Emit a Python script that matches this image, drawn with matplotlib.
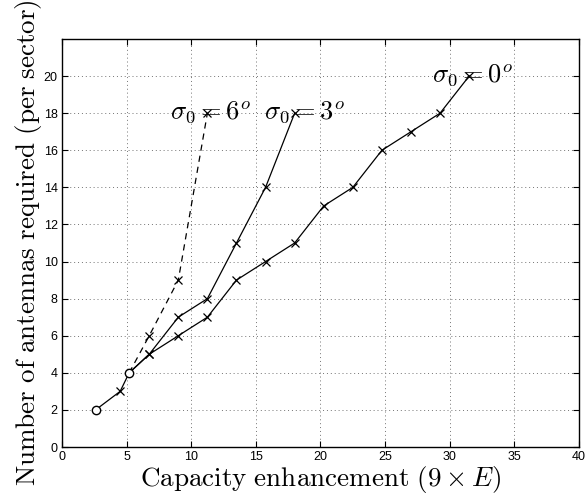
"""Antennas needed per sector against capacity enhancement for three angular spreads."""

import matplotlib
matplotlib.use("Agg")
import matplotlib.pyplot as plt

plt.rcParams["mathtext.fontset"] = "cm"
plt.rcParams["font.family"] = ["Liberation Sans", "DejaVu Sans"]

# sigma_0 = 0 deg
cap_0 = [2.6, 4.5, 5.2, 6.75, 9.0, 11.25, 13.5, 15.75, 18.0, 20.25, 22.5, 24.75, 27.0, 29.25, 31.5]
ant_0 = [2, 3, 4, 5, 6, 7, 9, 10, 11, 13, 14, 16, 17, 18, 20]
# sigma_0 = 3 deg
cap_3 = [5.2, 6.75, 9.0, 11.25, 13.5, 15.75, 18.0]
ant_3 = [4, 5, 7, 8, 11, 14, 18]
# sigma_0 = 6 deg
cap_6 = [5.2, 6.75, 9.0, 11.25]
ant_6 = [4, 6, 9, 18]
# circled reference points
cap_ref = [2.6, 5.2]
ant_ref = [2, 4]

xticks = list(range(0, 41, 5))
yticks = list(range(0, 21, 2))

fig = plt.figure(figsize=(5.88, 4.97), dpi=100)
ax = fig.add_axes([0.1054, 0.1006, 0.8793, 0.8209])

ax.plot(cap_0, ant_0, "k-", lw=0.9)
ax.plot(cap_0[1:2] + cap_0[3:], ant_0[1:2] + ant_0[3:], "kx", ms=6, mew=0.9)
ax.plot(cap_3, ant_3, "k-", lw=0.9)
ax.plot(cap_3[1:], ant_3[1:], "kx", ms=6, mew=0.9)
ax.plot(cap_6, ant_6, "k--", lw=0.9, dashes=(5, 4))
ax.plot(cap_6[1:], ant_6[1:], "kx", ms=6, mew=0.9)
ax.plot(cap_ref, ant_ref, "ko", ms=6, mfc="white", mew=1.0)

label_kw = dict(fontsize=19, ha="left", va="center")
ax.text(8.35, 18, r"$\sigma_0 = 6^o$", **label_kw)
ax.text(15.6, 18, r"$\sigma_0 = 3^o$", **label_kw)
ax.text(28.6, 20, r"$\sigma_0 = 0^o$", **label_kw)

ax.set_xlim(0, 40)
ax.set_ylim(0, 22)
ax.set_xticks(xticks)
ax.set_yticks(yticks)
ax.tick_params(direction="in", top=True, right=True, labelsize=9, length=4, pad=3)
ax.grid(True, linestyle=(0, (1, 3)), color="0.45", lw=0.7)
for s in ax.spines.values():
    s.set_linewidth(1.0)

ax.set_xlabel(r"$\mathrm{Capacity\ enhancement\ (9\times}E\mathrm{)}$", fontsize=19.5, labelpad=0.5)
ax.set_ylabel(r"$\mathrm{Number\ of\ antennas\ required\ (per\ sector)}$", fontsize=19.5, labelpad=0)

fig.savefig("out.png", dpi=100)
